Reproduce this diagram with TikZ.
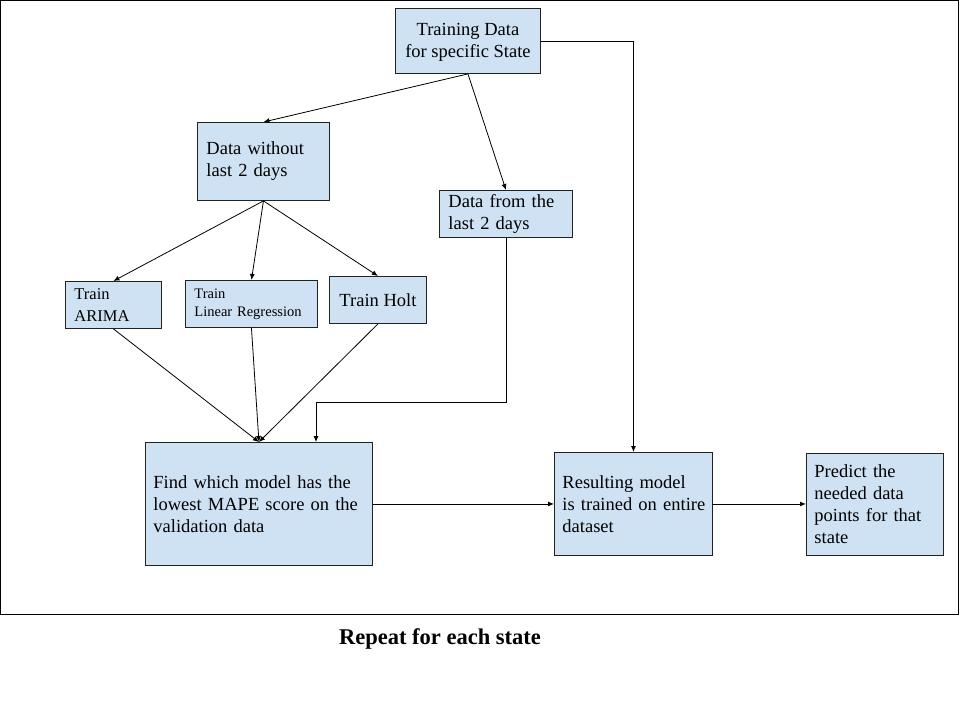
\documentclass[tikz,border=0pt]{standalone}
\usepackage{fontspec}
\setmainfont{Liberation Serif}
\usetikzlibrary{arrows.meta}
\definecolor{boxblue}{HTML}{CFE2F3}
\definecolor{boxline}{HTML}{222222}
\hyphenpenalty=10000

\begin{document}
\begin{tikzpicture}[x=1pt, y=-1pt,
    databox/.style={draw=boxline, line width=0.9pt, fill=boxblue, anchor=north west,
      inner xsep=9pt, inner ysep=0pt, font=\fontsize{18.5}{22}\selectfont},
    leftbox/.style={databox, align=left},
    midbox/.style={databox, align=center},
    flow/.style={line width=0.8pt, -{Latex[length=6pt,width=5pt]}}]
  \useasboundingbox (0,0) rectangle (966,705);
  % Frame round one state
  \draw[line width=0.9pt] (0.5,0.5) rectangle (958.5,614.5);

  % Boxes
  \node[midbox, minimum width=145, minimum height=65] (tdata) at (395,8)
    {\strut Training Data\\for specific State};
  \node[leftbox, text width=114, minimum height=78] (without) at (197,122)
    {\strut Data without\\last 2 days\strut};
  \node[leftbox, text width=115, minimum height=47] (lastdays) at (439,190)
    {Data from the\\last 2 days};
  \node[leftbox, text width=78, minimum height=47, font=\fontsize{16.5}{22}\selectfont] (arima) at (65,281)
    {Train\\ARIMA};
  \node[leftbox, text width=114, minimum height=47, font=\fontsize{14.5}{18}\selectfont] (linreg) at (185,280)
    {Train\\Linear Regression};
  \node[midbox, minimum width=97, minimum height=47] (holt) at (329,276)
    {Train Holt};
  \node[leftbox, inner xsep=8pt, text width=211, minimum height=123] (find) at (145,442)
    {Find which model has the\\lowest MAPE score on the\\validation data};
  \node[leftbox, inner xsep=6pt, text width=146, minimum height=103] (result) at (554,452)
    {\hspace*{2pt}Resulting model\\\hspace*{2pt}is trained on entire\\\hspace*{2pt}dataset};
  \node[leftbox, inner xsep=8pt, text width=121, minimum height=102] (predict) at (806,453)
    {Predict the\\needed data\\points for that\\state};

  \node[font=\bfseries\fontsize{22.5}{26}\selectfont] (repeat) at (440,639) {Repeat for each state};

  % Connectors
  \draw[flow] (tdata.south) -- (without.north);
  \draw[flow] (tdata.south) -- (lastdays.north);
  \draw[flow] (tdata.east) -| (result.north);
  \foreach \m in {arima, linreg, holt}
    \draw[flow] (without.south) -- (\m.north);
  \foreach \m in {arima, linreg, holt}
    \draw[flow] (\m.south) -- (find.north);
  \coordinate (turn) at (316,402);
  \draw[flow] (lastdays.south) |- (turn) -- (turn |- find.north);
  \draw[flow] (find.east) -- (find.east -| result.west);
  \draw[flow] (result.east) -- (result.east -| predict.west);
\end{tikzpicture}
\end{document}
